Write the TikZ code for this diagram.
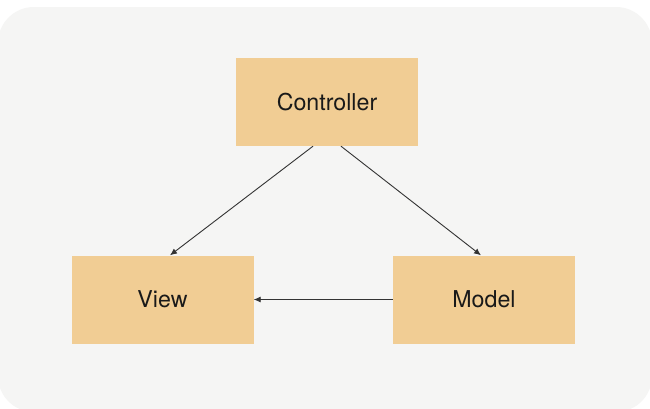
\documentclass[tikz,border=0pt]{standalone}
\usepackage{fontspec}
\setmainfont{TeX Gyre Heros}
\usetikzlibrary{arrows.meta}
\definecolor{bgc}{HTML}{F5F5F4}
\definecolor{boxc}{HTML}{F1CD94}
\definecolor{linec}{HTML}{333333}
\tikzset{
  box/.style={fill=boxc, draw=none, minimum width=182pt, minimum height=88pt, inner sep=0pt, font=\fontsize{23.2}{27}\selectfont, text=black!90},
  conn/.style={draw=linec, line width=0.9pt, -{Latex[length=7pt,width=6pt]}}
}
\begin{document}
\begin{tikzpicture}[x=1pt,y=-1pt]
\useasboundingbox (0,0) rectangle (650,408);
\fill[white] (0,0) rectangle (650,408);
\fill[bgc, rounded corners=36pt] (-2,7) rectangle (652,412);
\node[box] (c) at (327,102) {Controller};
\node[box] (v) at (162.5,299.5) {View};
\node[box] (m) at (484,299.5) {Model};
\draw[conn] (c.south -| 313,0) -- (v.north -| 170,0);
\draw[conn] (c.south -| 341,0) -- (m.north -| 481,0);
\draw[conn] (m.west) -- (v.east);
\end{tikzpicture}
\end{document}
